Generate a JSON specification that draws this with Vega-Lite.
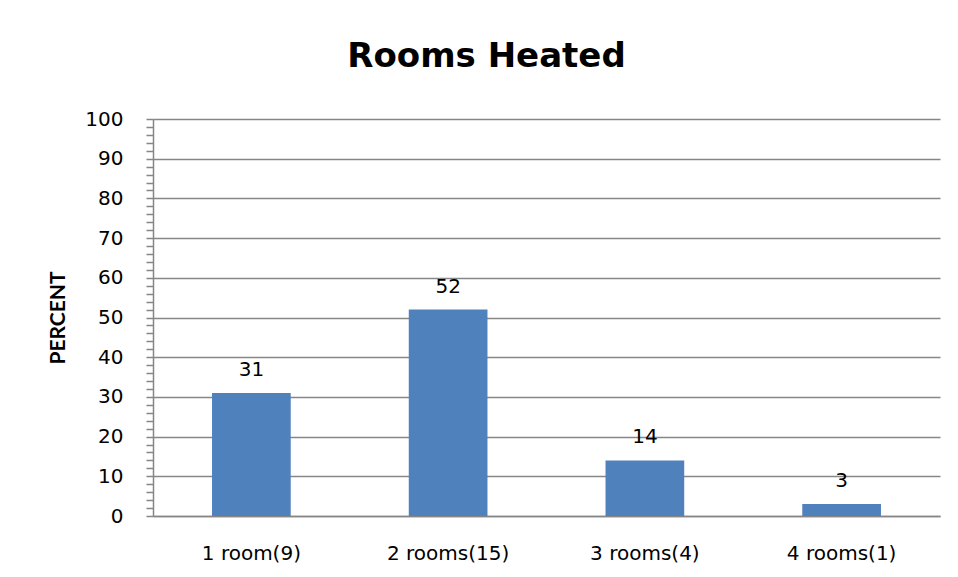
{
  "$schema": "https://vega.github.io/schema/vega-lite/v6.json",
  "width": 787,
  "height": 397,
  "autosize": {"type": "none"},
  "padding": {"left": 153, "top": 119, "right": 18, "bottom": 61},
  "background": "white",
  "title": {
    "text": "Rooms Heated",
    "font": "DejaVu Sans",
    "fontSize": 34,
    "fontWeight": "bold",
    "color": "#000000",
    "anchor": "middle",
    "frame": "group",
    "dx": -60,
    "baseline": "alphabetic",
    "offset": 8
  },
  "data": {
    "values": [
      {"category": "1 room(9)", "percent": 31},
      {"category": "2 rooms(15)", "percent": 52},
      {"category": "3 rooms(4)", "percent": 14},
      {"category": "4 rooms(1)", "percent": 3}
    ]
  },
  "encoding": {
    "x": {
      "field": "category",
      "type": "nominal",
      "sort": null,
      "scale": {"paddingInner": 0.6, "paddingOuter": 0.3},
      "axis": {
        "title": null,
        "labelAngle": 0,
        "labelFont": "DejaVu Sans",
        "labelFontSize": 20,
        "labelColor": "#000000",
        "labelBaseline": "alphabetic",
        "labelPadding": 43,
        "ticks": false,
        "tickSize": 0,
        "domainColor": "#868686",
        "domainWidth": 1.5,
        "grid": false
      }
    },
    "y": {
      "field": "percent",
      "type": "quantitative",
      "scale": {"domain": [0, 100], "nice": false},
      "axis": {
        "title": "PERCENT",
        "titleFont": "Lato",
        "titleFontSize": 21,
        "titleFontWeight": "bold",
        "titleColor": "#000000",
        "titlePadding": 16,
        "values": [0,2,4,6,8,10,12,14,16,18,20,22,24,26,28,30,32,34,36,38,40,42,44,46,48,50,52,54,56,58,60,62,64,66,68,70,72,74,76,78,80,82,84,86,88,90,92,94,96,98,100],
        "labelExpr": "datum.value % 10 === 0 ? datum.label : ''",
        "labelOverlap": false,
        "labelFont": "DejaVu Sans",
        "labelFontSize": 20,
        "labelColor": "#000000",
        "labelPadding": 23,
        "labelBaseline": "middle",
        "tickSize": 7,
        "tickColor": "#868686",
        "tickWidth": 1.5,
        "domainColor": "#868686",
        "domainWidth": 1.5,
        "grid": true,
        "gridColor": "#868686",
        "gridWidth": 1.5,
        "gridOpacity": {"condition": {"test": "datum.value % 10 === 0", "value": 1}, "value": 0}
      }
    }
  },
  "layer": [
    {"mark": {"type": "bar", "color": "#4F81BD"}},
    {
      "mark": {"type": "text", "font": "DejaVu Sans", "fontSize": 20, "color": "#000000", "baseline": "alphabetic", "dy": -17},
      "encoding": {"text": {"field": "percent", "type": "quantitative"}}
    }
  ],
  "config": {"view": {"stroke": null}}
}
